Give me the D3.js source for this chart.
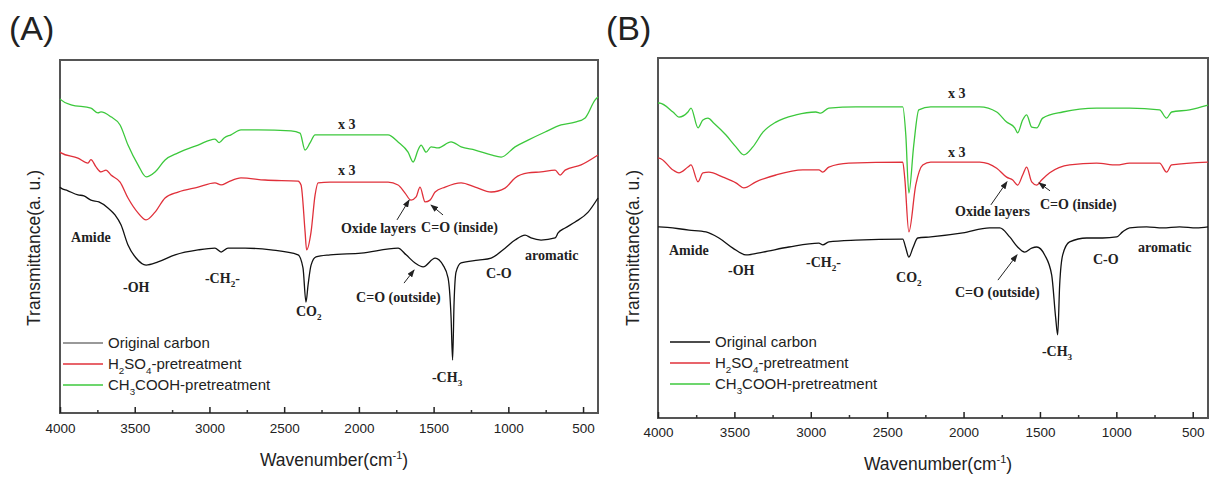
<!DOCTYPE html>
<html>
<head>
<meta charset="utf-8">
<script src="https://cdn.jsdelivr.net/npm/d3@7"></script>
<style>
  body { margin: 0; background: #fff; }
  svg { display: block; }
  .note { font-family: "Liberation Serif", "Times New Roman", serif; font-size: 14px; font-weight: bold; fill: #222; }
  .legend { font-family: "Liberation Sans", Arial, sans-serif; font-size: 15px; fill: #222; }
  .title { font-family: "Liberation Sans", Arial, sans-serif; font-size: 17.5px; fill: #222; }
  .panel { font-family: "Liberation Sans", Arial, sans-serif; font-size: 34px; fill: #222; }
</style>
</head>
<body>
<div id="chart"></div>
<script>
const width = 1209, height = 478;

const majorTicks = [4000, 3500, 3000, 2500, 2000, 1500, 1000, 500];
const minorTicks = [3750, 3250, 2750, 2250, 1750, 1250, 750];
const seriesNames = ["Original carbon", "H2SO4-pretreatment", "CH3COOH-pretreatment"];

// spectra: [wavenumber (cm-1), transmittance (a.u.)]
const aOriginal = [[4000,64.0],[3993,63.7],[3950,63.0],[3880,61.8],[3840,61.5],[3793,60.3],[3740,59.8],[3679,58.1],[3632,56.1],[3592,53.3],[3545,47.6],[3491,43.9],[3424,41.9],[3344,42.8],[3230,44.8],[3076,46.2],[2963,46.7],[2922,45.6],[2876,46.7],[2762,46.7],[2588,46.2],[2407,44.8],[2374,41.1],[2354,31.4],[2340,36.3],[2320,41.9],[2287,44.2],[2193,44.8],[1985,45.3],[1738,46.7],[1684,44.8],[1624,42.5],[1570,41.4],[1490,43.9],[1437,41.9],[1403,38.2],[1383,26.9],[1373,15.0],[1363,31.4],[1350,39.9],[1316,42.5],[1202,43.3],[1115,43.9],[1022,46.7],[955,49.0],[888,50.4],[848,49.6],[781,49.0],[687,49.6],[667,51.0],[620,52.4],[553,54.1],[466,56.9],[400,60.9]];
const aH2SO4 = [[4000,73.9],[3993,73.7],[3880,72.2],[3813,70.8],[3793,71.8],[3759,69.7],[3726,68.3],[3692,68.8],[3659,67.4],[3598,65.4],[3545,60.9],[3478,56.7],[3424,54.7],[3364,56.9],[3297,60.9],[3210,62.6],[3076,64.0],[2963,65.2],[2922,64.6],[2876,65.4],[2789,66.6],[2628,66.0],[2407,65.7],[2387,64.6],[2360,51.3],[2350,46.2],[2320,51.3],[2293,61.8],[2273,65.2],[2193,65.4],[1805,65.4],[1738,64.6],[1691,62.3],[1651,60.3],[1617,61.2],[1591,64.0],[1557,59.8],[1524,60.3],[1490,62.6],[1423,64.0],[1316,65.2],[1222,64.0],[1115,62.6],[1022,63.7],[955,66.6],[868,68.0],[781,68.3],[687,68.8],[653,67.4],[620,68.8],[513,70.3],[400,73.1]];
const aAcetic = [[4000,89.0],[3993,88.7],[3926,87.3],[3793,86.4],[3746,85.0],[3726,85.3],[3659,83.9],[3598,81.6],[3545,75.9],[3478,70.3],[3424,66.9],[3364,68.3],[3297,71.7],[3210,73.7],[3076,75.9],[2963,77.6],[2935,76.6],[2900,78.0],[2856,78.8],[2789,80.2],[2675,80.2],[2454,79.9],[2394,79.3],[2360,74.5],[2327,76.5],[2293,78.8],[2193,78.8],[1805,78.8],[1738,76.8],[1671,73.9],[1637,71.1],[1604,74.5],[1584,75.9],[1550,73.9],[1517,75.4],[1470,75.1],[1383,76.8],[1316,75.4],[1222,74.5],[1115,73.1],[1048,72.5],[955,75.4],[868,77.3],[754,79.6],[647,81.6],[553,82.4],[486,83.6],[419,88.7],[400,89.5]];

const bOriginal = [[4000,53.1],[3993,53.1],[3797,52.2],[3686,51.7],[3601,50.0],[3510,47.2],[3424,45.3],[3313,46.1],[3143,47.5],[2947,48.6],[2921,48.1],[2882,48.9],[2705,49.4],[2398,49.7],[2378,47.2],[2358,44.7],[2332,47.2],[2300,50.0],[2215,50.3],[2005,51.4],[1829,52.8],[1763,52.8],[1698,50.3],[1646,47.5],[1600,46.1],[1554,47.2],[1521,47.5],[1469,45.3],[1423,39.7],[1397,27.8],[1384,23.1],[1371,36.9],[1351,45.3],[1306,48.9],[1194,50.0],[1090,50.0],[998,50.3],[959,51.7],[913,52.8],[802,53.1],[697,52.8],[586,53.1],[475,52.8],[400,53.1]];
const bH2SO4 = [[4000,72.2],[3993,72.2],[3902,68.9],[3863,68.1],[3804,69.7],[3784,70.3],[3738,65.6],[3706,68.1],[3667,68.3],[3575,66.9],[3490,65.3],[3438,63.9],[3359,65.6],[3228,67.5],[3052,68.9],[2947,68.9],[2921,68.3],[2882,69.7],[2751,70.8],[2398,71.1],[2385,66.7],[2358,51.7],[2313,64.7],[2267,70.3],[2215,71.1],[1894,71.1],[1783,69.4],[1718,66.9],[1678,66.1],[1646,64.7],[1613,67.5],[1587,69.7],[1554,65.6],[1521,64.7],[1489,66.1],[1436,68.1],[1306,70.3],[1129,70.8],[998,70.3],[913,70.8],[717,70.8],[671,68.3],[638,70.3],[400,71.1]];
const bAcetic = [[4000,87.5],[3993,87.5],[3902,85.0],[3863,83.6],[3804,85.0],[3784,86.1],[3738,80.6],[3706,82.8],[3673,83.3],[3634,81.9],[3555,78.6],[3490,75.3],[3438,73.1],[3379,75.3],[3313,79.4],[3228,82.2],[3097,84.2],[2967,85.0],[2934,84.7],[2882,86.1],[2705,86.4],[2398,86.4],[2378,78.6],[2358,62.5],[2326,75.8],[2293,85.6],[2215,86.4],[1894,86.4],[1783,85.0],[1718,82.2],[1665,80.6],[1646,79.2],[1613,82.8],[1587,84.2],[1554,80.8],[1521,80.6],[1482,83.3],[1351,85.0],[1129,86.1],[913,86.1],[717,85.6],[671,83.3],[638,85.0],[521,85.6],[400,86.9]];

// peak labels: text anchored at [wavenumber, transmittance]
const notesA = [
  { text: "x 3", w: 2140, t: 80.5 }, { text: "x 3", w: 2140, t: 67.4 },
  { text: "Amide", w: 3926, t: 48.4 }, { text: "-OH", w: 3578, t: 34.3 },
  { text: "-CH2-", w: 3030, t: 36.8 }, { text: "CO2", w: 2421, t: 27.5 },
  { text: "Oxide layers", w: 2120, t: 51.0 }, { text: "C=O (inside)", w: 1584, t: 51.3 },
  { text: "C=O (outside)", w: 2019, t: 31.4 }, { text: "-CH3", w: 1511, t: 8.8 },
  { text: "C-O", w: 1149, t: 38.2 }, { text: "aromatic", w: 888, t: 43.3 }
];
const arrowsA = [
  { from: [1745, 54.7], to: [1664, 60.3] },
  { from: [1437, 56.1], to: [1517, 58.9] },
  { from: [1698, 36.8], to: [1631, 40.5] }
];
const notesB = [
  { text: "x 3", w: 2102, t: 88.9 }, { text: "x 3", w: 2102, t: 72.5 },
  { text: "Amide", w: 3928, t: 45.3 }, { text: "-OH", w: 3542, t: 39.7 },
  { text: "-CH2-", w: 3031, t: 41.9 }, { text: "CO2", w: 2442, t: 37.8 },
  { text: "Oxide layers", w: 2056, t: 56.1 }, { text: "C=O (inside)", w: 1500, t: 58.1 },
  { text: "C=O (outside)", w: 2056, t: 33.6 }, { text: "-CH3", w: 1487, t: 17.2 },
  { text: "C-O", w: 1153, t: 42.8 }, { text: "aromatic", w: 858, t: 46.1 }
];
const arrowsB = [
  { from: [1821, 59.2], to: [1716, 65.6] },
  { from: [1434, 63.1], to: [1506, 65.3] },
  { from: [1775, 38.3], to: [1650, 45.3] }
];

const colors = ["#111111", "#e0303a", "#3cc83c"];

const svg = d3.select("#chart")
  .append("svg")
  .attr("width", width)
  .attr("height", height);

svg.append("defs").append("marker")
  .attr("id", "arrow")
  .attr("markerUnits", "userSpaceOnUse")
  .attr("markerWidth", 8).attr("markerHeight", 6)
  .attr("refX", 7).attr("refY", 3)
  .attr("orient", "auto")
  .append("path").attr("d", "M0,0 L8,3 L0,6 Z").attr("fill", "#222");

// digits right after a letter become subscripts (CO2, H2SO4 ...)
function chem(sel, str, fs) {
  const parts = str.match(/\d+|\D+/g);
  let down = false;
  parts.forEach((p, i) => {
    const sub = /^\d/.test(p) && i > 0 && /[A-Za-z]$/.test(parts[i - 1]);
    const t = sel.append("tspan").text(p);
    if (sub) { t.attr("dy", fs * 0.3).attr("font-size", fs * 0.65); down = true; }
    else if (down) { t.attr("dy", -fs * 0.3); down = false; }
  });
}

function drawPanel(p) {
  const x = d3.scaleLinear().domain([4000, 400]).range([p.left, p.right]);
  const y = d3.scaleLinear().domain([0, 100]).range([p.bottom, p.top]);
  const g = svg.append("g");

  g.append("rect")
    .attr("x", p.left).attr("y", p.top)
    .attr("width", p.right - p.left).attr("height", p.bottom - p.top)
    .attr("fill", "none").attr("stroke", "#555").attr("stroke-width", 2);

  const ax = g.append("g")
    .attr("transform", `translate(0,${p.bottom})`)
    .call(d3.axisBottom(x).tickValues(majorTicks).tickSize(-6).tickPadding(p.pad).tickFormat(d3.format("d")));
  ax.select(".domain").remove();
  ax.attr("font-family", "Liberation Sans, Arial, sans-serif").attr("font-size", 13.5).attr("color", "#222");
  ax.selectAll("line").attr("stroke-width", 1.5);

  g.append("g")
    .attr("transform", `translate(0,${p.bottom})`)
    .attr("color", "#333")
    .call(d3.axisBottom(x).tickValues(minorTicks).tickSize(-3).tickFormat(""))
    .call(a => a.select(".domain").remove())
    .selectAll("line").attr("stroke-width", 1.5);

  const line = d3.line()
    .x(d => x(d[0]))
    .y(d => y(d[1]))
    .curve(d3.curveMonotoneX);

  g.selectAll(".spec")
    .data(p.series)
    .join("path")
    .attr("class", "spec")
    .attr("d", line)
    .attr("fill", "none")
    .attr("stroke", (d, i) => colors[i])
    .attr("stroke-width", 1.3);

  // peak labels
  p.notes.forEach(n => {
    const t = g.append("text").attr("class", "note").attr("x", x(n.w)).attr("y", y(n.t));
    chem(t, n.text, 14);
  });

  g.selectAll(".arrow")
    .data(p.arrows)
    .join("line")
    .attr("class", "arrow")
    .attr("x1", d => x(d.from[0])).attr("y1", d => y(d.from[1]))
    .attr("x2", d => x(d.to[0])).attr("y2", d => y(d.to[1]))
    .attr("stroke", "#222").attr("stroke-width", 1)
    .attr("marker-end", "url(#arrow)");

  // legend
  seriesNames.forEach((name, i) => {
    const ly = p.legendY + i * 21;
    g.append("line")
      .attr("x1", p.legendX).attr("x2", p.legendX + 40)
      .attr("y1", ly).attr("y2", ly)
      .attr("stroke", i === 0 ? p.legendBlack : colors[i]).attr("stroke-width", 1.5);
    const t = g.append("text").attr("class", "legend")
      .attr("x", p.legendX + 45).attr("y", ly + 5);
    chem(t, name, 15);
  });

  // axis titles
  const xt = g.append("text").attr("class", "title")
    .attr("x", (p.left + p.right) / 2 + 5).attr("y", p.titleY)
    .attr("text-anchor", "middle");
  xt.append("tspan").text("Wavenumber(cm");
  xt.append("tspan").text("-1").attr("font-size", 11).attr("dy", -7);
  xt.append("tspan").text(")").attr("dy", 7);

  g.append("text").attr("class", "title")
    .attr("transform", `translate(${p.yTitleX},248) rotate(-90)`)
    .attr("text-anchor", "middle")
    .text("Transmittance(a. u.)");

  g.append("text").attr("class", "panel")
    .attr("x", p.labelX).attr("y", 40)
    .text(p.label);
}

drawPanel({
  label: "(A)", labelX: 9,
  left: 60, top: 60, right: 598, bottom: 413, pad: 10.5,
  series: [aOriginal, aH2SO4, aAcetic],
  notes: notesA, arrows: arrowsA,
  legendX: 63, legendY: 343, legendBlack: "#777",
  titleY: 466, yTitleX: 40
});

drawPanel({
  label: "(B)", labelX: 606,
  left: 658, top: 58, right: 1208, bottom: 418, pad: 9.5,
  series: [bOriginal, bH2SO4, bAcetic],
  notes: notesB, arrows: arrowsB,
  legendX: 670, legendY: 342, legendBlack: "#111",
  titleY: 470, yTitleX: 639
});
</script>
</body>
</html>
